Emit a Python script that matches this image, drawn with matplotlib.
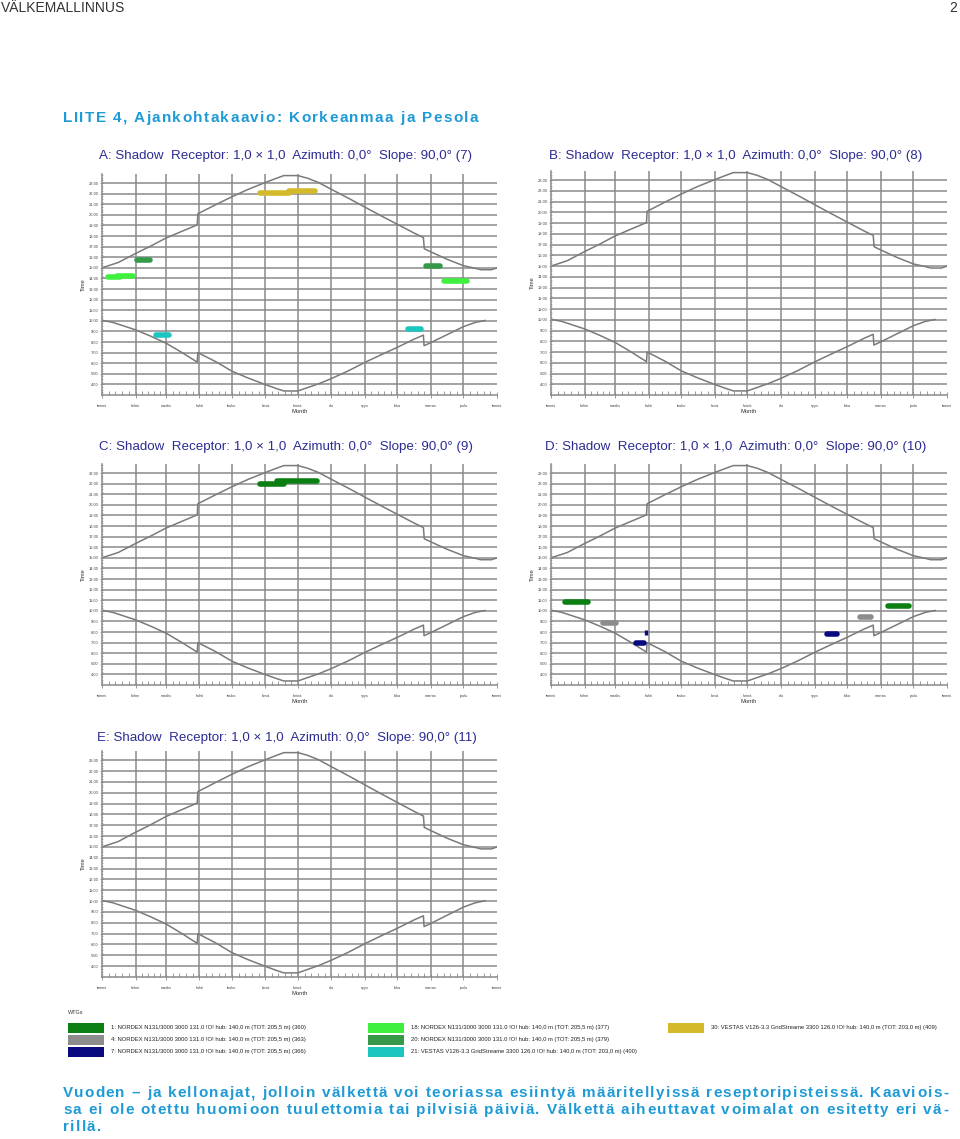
import matplotlib.pyplot as plt
from matplotlib.patches import Rectangle

plt.rcParams['font.family'] = ['Liberation Sans', 'DejaVu Sans']

# kuukaudet (vuoden päivä, jolloin kuukausi alkaa)
kuukaudet = ['tammi', 'helmi', 'maalis', 'huhti', 'touko', 'kesä', 'heinä',
             'elo', 'syys', 'loka', 'marras', 'joulu', 'tammi']
kk_alku = [0, 31, 59, 90, 120, 151, 181, 212, 243, 273, 304, 334, 365]
tunnit = list(range(4, 24))

# auringonlasku (ylempi käyrä)
lasku_pv = [0, 15, 31, 45, 59, 74, 88, 88.6, 105, 120, 135, 151, 160, 168, 181,
            190, 200, 212, 228, 243, 258, 273, 288, 297, 297.8, 304, 319, 334,
            345, 350, 360, 365]
lasku_h = [15.0, 15.5, 16.35, 17.05, 17.8, 18.45, 19.05, 20.1, 20.95, 21.7, 22.4,
           23.05, 23.4, 23.7, 23.7, 23.45, 23.05, 22.4, 21.55, 20.72, 19.9, 19.1,
           18.3, 17.85, 16.8, 16.5, 15.8, 15.2, 14.95, 14.82, 14.82, 15.0]

# auringonnousu (alempi käyrä)
nousu_pv = [0, 10, 31, 45, 59, 74, 88, 88.6, 105, 120, 135, 151, 160, 168, 181,
            190, 200, 212, 228, 243, 258, 273, 288, 297, 297.6, 304, 319, 334,
            345, 354]
nousu_h = [10.05, 9.85, 9.15, 8.55, 7.9, 7.0, 6.1, 7.0, 6.15, 5.25, 4.6, 3.98,
           3.65, 3.38, 3.38, 3.7, 4.05, 4.55, 5.3, 6.08, 6.8, 7.5, 8.25, 8.65,
           7.65, 7.95, 8.7, 9.45, 9.85, 10.03]

# voimalat (WTG)
wtg_nimet = [
    '1: NORDEX N131/3000 3000 131.0 !O! hub: 140,0 m (TOT: 205,5 m) (360)',
    '4: NORDEX N131/3000 3000 131.0 !O! hub: 140,0 m (TOT: 205,5 m) (363)',
    '7: NORDEX N131/3000 3000 131.0 !O! hub: 140,0 m (TOT: 205,5 m) (366)',
    '18: NORDEX N131/3000 3000 131.0 !O! hub: 140,0 m (TOT: 205,5 m) (377)',
    '20: NORDEX N131/3000 3000 131.0 !O! hub: 140,0 m (TOT: 205,5 m) (379)',
    '21: VESTAS V126-3.3 GridStreame 3300 126.0 !O! hub: 140,0 m (TOT: 203,0 m) (400)',
    '30: VESTAS V126-3.3 GridStreame 3300 126.0 !O! hub: 140,0 m (TOT: 203,0 m) (409)',
]
wtg_id = [1, 4, 7, 18, 20, 21, 30]
wtg_varit = ['#0b7f12', '#8c8c8c', '#0a0a80', '#3ff03f', '#36994a', '#1cc6c0', '#d4b92a']

# välkejaksot: (voimala, alkupäivä, loppupäivä, kellonaika)
valke_A = [(18, 6, 17, 14.1), (18, 14, 29, 14.24), (20, 32, 44, 15.72),
           (21, 50, 62, 8.66), (30, 146, 173, 22.06), (30, 173, 197, 22.27),
           (21, 283, 295, 9.22), (20, 299, 312, 15.15), (18, 316, 337, 13.8)]
valke_B = []
valke_C = [(1, 146, 168, 22.0), (1, 162, 199, 22.22)]
valke_D = [(1, 13, 34, 10.85), (4, 48, 60, 8.85), (7, 78, 86, 6.92),
           (7, 88, 88.6, 7.95), (7, 254, 264, 7.78), (4, 285, 295, 9.4),
           (1, 311, 330, 10.47)]
valke_E = []

otsikot = [
    'A: Shadow  Receptor: 1,0 × 1,0  Azimuth: 0,0°  Slope: 90,0° (7)',
    'B: Shadow  Receptor: 1,0 × 1,0  Azimuth: 0,0°  Slope: 90,0° (8)',
    'C: Shadow  Receptor: 1,0 × 1,0  Azimuth: 0,0°  Slope: 90,0° (9)',
    'D: Shadow  Receptor: 1,0 × 1,0  Azimuth: 0,0°  Slope: 90,0° (10)',
    'E: Shadow  Receptor: 1,0 × 1,0  Azimuth: 0,0°  Slope: 90,0° (11)',
]
valkeet = [valke_A, valke_B, valke_C, valke_D, valke_E]

# paneelien paikat pikseleinä: vasen, oikea, alareuna, korkeus, otsikon x, otsikon y
paikat = [(102, 497, 395, 221, 286, 156),
          (551, 947, 395, 224, 736, 156),
          (102, 497, 685, 221, 286, 447),
          (551, 947, 685, 221, 736, 447),
          (102, 497, 977, 226, 287, 738)]

W, H = 960, 1139
fig = plt.figure(figsize=(W / 100, H / 100), dpi=100)
fig.patch.set_facecolor('white')

# tausta-akseli pikselikoordinaateilla tekstejä ja selitettä varten
bg = fig.add_axes([0, 0, 1, 1])
bg.set_xlim(0, W)
bg.set_ylim(H, 0)
bg.axis('off')
renderer = fig.canvas.get_renderer()

harmaa = '#8a8a8a'
kayra = '#7a7a7a'

for i in range(5):
    vasen, oikea, ala, korkeus, tx, ty = paikat[i]
    ax = fig.add_axes([vasen / W, 1 - ala / H, (oikea - vasen) / W, korkeus / H])
    ax.set_xlim(0, 365)
    ax.set_ylim(3.0, 23.85)
    ax.set_facecolor('none')

    # ruudukko
    for h in tunnit:
        ax.axhline(h, color=harmaa, lw=1.1, zorder=1)
    for d in kk_alku[1:-1]:
        ax.axvline(d, color=harmaa, lw=1.1, zorder=1)

    ax.plot(lasku_pv, lasku_h, color=kayra, lw=1.1, zorder=2)
    ax.plot(nousu_pv, nousu_h, color=kayra, lw=1.1, zorder=2)

    for wtg, d0, d1, h in valkeet[i]:
        vari = wtg_varit[wtg_id.index(wtg)]
        if d1 - d0 < 2:
            ax.plot([d0, d0], [h - 0.2, h + 0.2], color=vari, lw=2.4,
                    solid_capstyle='butt', zorder=3)
        else:
            ax.plot([d0, d1], [h, h], color=vari, lw=4.0,
                    solid_capstyle='round', zorder=3)

    for s in ['top', 'right']:
        ax.spines[s].set_visible(False)
    for s in ['left', 'bottom']:
        ax.spines[s].set_color(harmaa)
        ax.spines[s].set_linewidth(1.1)

    ax.set_xticks(kk_alku)
    ax.set_xticklabels(kuukaudet, fontsize=2.8, color='#444444')
    pienet = []
    for k in range(12):
        pituus = kk_alku[k + 1] - kk_alku[k]
        for j in range(1, 5):
            pienet.append(kk_alku[k] + j * pituus / 5)
    ax.set_xticks(pienet, minor=True)
    ax.set_yticks(tunnit)
    ax.set_yticklabels(['%d:00' % h for h in tunnit], fontsize=2.9, color='#444444')
    ax.set_yticks([t / 4 for t in range(12, 96)], minor=True)
    ax.tick_params(axis='x', which='major', direction='inout', length=5,
                   width=0.6, color=harmaa, pad=4)
    ax.tick_params(axis='x', which='minor', direction='in', length=3,
                   width=0.6, color=harmaa)
    ax.tick_params(axis='y', which='major', direction='inout', length=3,
                   width=0.5, color=harmaa, pad=1)
    ax.tick_params(axis='y', which='minor', direction='inout', length=2,
                   width=0.4, color=harmaa)
    ax.set_xlabel('Month', fontsize=4.2, color='#333333', labelpad=0.5)
    ax.set_ylabel('Time', fontsize=4.2, color='#333333', labelpad=2)

    bg.text(tx, ty, otsikot[i], ha='center', va='center', fontsize=9.6,
            color='#2c2c94')


def leveys(s, **kw):
    t = bg.text(0, 0, s, **kw)
    w = t.get_window_extent(renderer).width
    t.remove()
    return w


def harva_teksti(x, y, s, oikea=None, vali=None, **kw):
    # harvennettu teksti: merkit yksitellen, tasattuna oikeaan reunaan jos annettu
    merkki = leveys('|', **kw)
    paikka = [leveys(s[:k] + '|', **kw) - merkki for k in range(len(s))]
    if oikea is not None:
        vali = (oikea - x - leveys(s, **kw)) / (len(s) - 1)
    for k, c in enumerate(s):
        if c != ' ':
            bg.text(x + paikka[k] + k * vali, y, c, ha='left', va='center', **kw)
    return vali


sininen = dict(fontsize=11, fontweight='bold', color='#1e9ad6')

# ylä- ja alatekstit
bg.text(1, 8, 'VÄLKEMALLINNUS', ha='left', va='center', fontsize=10, color='#333333')
bg.text(957, 8, '2', ha='right', va='center', fontsize=10, color='#333333')
harva_teksti(63, 118, 'LIITE 4, Ajankohtakaavio: Korkeanmaa ja Pesola', oikea=478, **sininen)

kuvateksti = ['Vuoden – ja kellonajat, jolloin välkettä voi teoriassa esiintyä määritellyissä reseptoripisteissä. Kaaviois-',
              'sa ei ole otettu huomioon tuulettomia tai pilvisiä päiviä. Välkettä aiheuttavat voimalat on esitetty eri vä-',
              'rillä.']
v1 = harva_teksti(63, 1093, kuvateksti[0], oikea=948, **sininen)
v2 = harva_teksti(63, 1110, kuvateksti[1], oikea=948, **sininen)
harva_teksti(63, 1127, kuvateksti[2], vali=v2, **sininen)

# selite
bg.text(68, 1013, 'WTGs', ha='left', va='center', fontsize=4, color='#333333')
sarakkeet = [68, 368, 668]
for n in range(len(wtg_id)):
    sarake = n // 3
    rivi = n % 3
    y = 1023 + rivi * 12
    x = sarakkeet[sarake]
    bg.add_patch(Rectangle((x, y), 36, 10, facecolor=wtg_varit[n], edgecolor='none'))
    bg.text(x + 43, y + 5, wtg_nimet[n], ha='left', va='center', fontsize=4.2,
            color='#222222')

fig.savefig('out.png', dpi=100)
